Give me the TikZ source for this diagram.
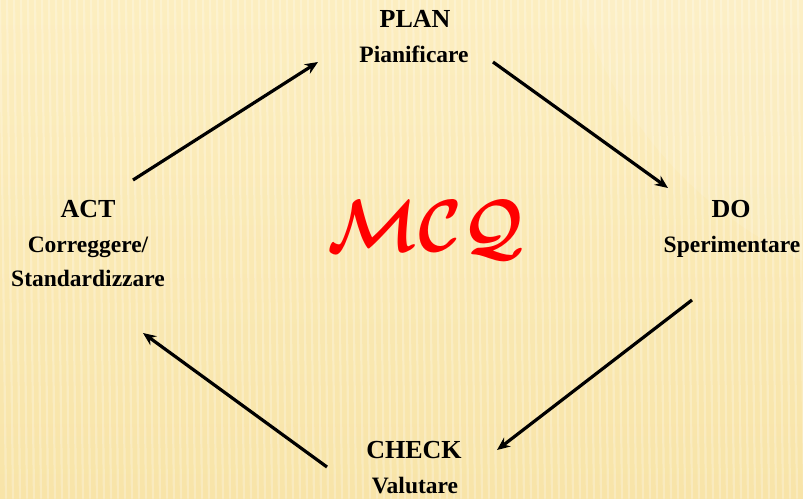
\documentclass[tikz,border=0pt]{standalone}
\usepackage{fontspec}
\setmainfont{Liberation Serif}
\usetikzlibrary{arrows.meta}
\definecolor{paper}{RGB}{252,238,192}
\definecolor{paperdark}{RGB}{248,228,168}

\begin{document}
\begin{tikzpicture}[x=1pt,y=-1pt,>={Stealth[length=13pt,width=11pt]},line cap=round,
  head/.style={anchor=base,font=\bfseries\fontsize{26}{30}\selectfont},
  sub/.style={anchor=base,font=\bfseries\fontsize{23.5}{28}\selectfont},
  cyc/.style={->,line width=3.2pt,line cap=butt}]
\useasboundingbox (0,0) rectangle (803,498);
% background
\begin{scope}
\clip (0,0) rectangle (803,498);
\shade[top color=paper,bottom color=paperdark] (0,0) rectangle (803,498);
\fill[white,opacity=0.1] (980,-120) circle (420);
\foreach \i in {0,7,...,805}
  \draw[white,opacity=0.25,line width=2.2pt] (\i,0) -- (\i+6,498);
\end{scope}
% phases
\node[head] (plan) at (415,27) {PLAN};
\node[sub] (plansub) at (414,62.5) {Pianificare};
\node[head] (do) at (731,217) {DO};
\node[sub] (dosub) at (732,252) {Sperimentare};
\node[head] (check) at (414,458) {CHECK};
\node[sub] (checksub) at (415,493) {Valutare};
\node[head] (act) at (88,217) {ACT};
\node[sub] (actsub) at (88,252) {Correggere/};
\node[sub] (actsub2) at (88,286) {Standardizzare};
\node[text=red,xscale=6.6,yscale=7.4,font=\boldmath] (mcq) at (426,230) {$\mathcal{MCQ}$};
% cycle
\coordinate (plan-out) at (493,62);
\coordinate (do-in) at (668,188);
\coordinate (do-out) at (692,300);
\coordinate (check-in) at (497,450);
\coordinate (check-out) at (327,467);
\coordinate (act-in) at (143,333);
\coordinate (act-out) at (133,180);
\coordinate (plan-in) at (318,62);
\draw[cyc] (plan-out) -- (do-in);
\draw[cyc] (do-out) -- (check-in);
\draw[cyc] (check-out) -- (act-in);
\draw[cyc] (act-out) -- (plan-in);
\end{tikzpicture}
\end{document}
